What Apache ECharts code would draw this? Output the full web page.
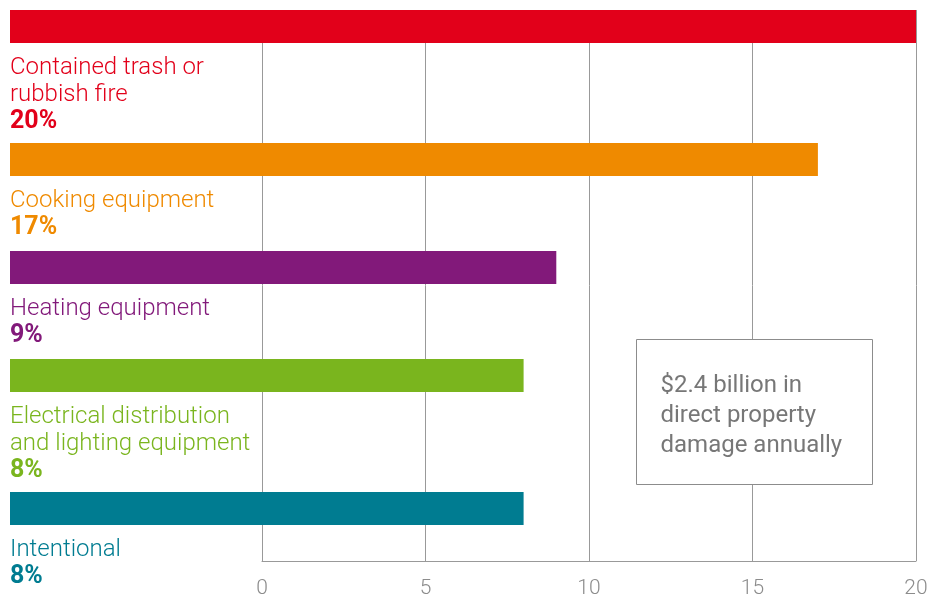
<!DOCTYPE html>
<html>
<head>
<meta charset="utf-8">
<script src="https://cdn.jsdelivr.net/npm/echarts@6/dist/echarts.min.js"></script>
<style>
  html, body { margin: 0; padding: 0; background: #fff; }
  #chart { width: 946px; height: 599px; }
</style>
</head>
<body>
<div id="chart"></div>
<script>
// data
const categories = [
    'Contained trash or\nrubbish fire',
    'Cooking equipment',
    'Heating equipment',
    'Electrical distribution\nand lighting equipment',
    'Intentional'
];
const shares = [20, 17, 9, 8, 8];
const tickValues = [0, 5, 10, 15, 20];
const noteLines = ['$2.4 billion in', 'direct property', 'damage annually'];

// styles
const colors = ['#e2001a', '#ef8a00', '#82197a', '#7ab51e', '#007c91'];
const FONT = 'Roboto, "Noto Sans", sans-serif';
const BAR_H = 33;
const LINE_H = 27;
const BAR_LEFT = 10;

// vertical layout of each block (bar + label lines under it)
const lineCounts = categories.map(c => c.split('\n').length + 1);
const offsets = [];
let acc = 0;
lineCounts.forEach(n => {
    offsets.push(acc);
    acc += 83 + (n - 1) * 25;
});

let dom = document.getElementById('chart');
let myChart = echarts.init(dom, null, { renderer: 'canvas' });

function renderItem(params, api) {
    const i = params.dataIndex;
    const cs = params.coordSys;
    const top = cs.y + offsets[i];
    const x1 = api.coord([api.value(0), i])[0];
    const children = [{
        type: 'rect',
        shape: { x: BAR_LEFT, y: top, width: x1 - BAR_LEFT, height: BAR_H },
        style: { fill: colors[i] }
    }];
    const lines = categories[i].split('\n');
    lines.forEach((t, k) => {
        children.push({
            type: 'text',
            x: BAR_LEFT,
            y: top + 66 + k * LINE_H - 8,
            style: {
                text: t,
                fill: colors[i],
                fontFamily: FONT,
                fontWeight: 300,
                fontSize: 24,
                align: 'left',
                verticalAlign: 'middle'
            }
        });
    });
    children.push({
        type: 'text',
        x: BAR_LEFT,
        y: top + 66 + lines.length * LINE_H - 8,
        style: {
            text: shares[i] + '%',
            fill: colors[i],
            fontFamily: FONT,
            fontWeight: 'bold',
            fontSize: 25,
            align: 'left',
            verticalAlign: 'middle'
        }
    });
    return { type: 'group', children: children };
}

let option = {
    animation: false,
    grid: { left: 262, right: 30, top: 10, bottom: 31 },
    xAxis: {
        type: 'value',
        min: 0,
        max: 20,
        interval: 5,
        axisLine: { show: true, lineStyle: { color: '#999', width: 1 } },
        axisTick: { show: false },
        splitLine: { show: true, lineStyle: { color: '#999', width: 1 } },
        axisLabel: {
            color: '#8c8c8c',
            fontFamily: FONT,
            fontWeight: 300,
            fontSize: 21,
            margin: 17,
            formatter: v => tickValues.indexOf(v) >= 0 ? String(v) : ''
        }
    },
    yAxis: {
        type: 'category',
        inverse: true,
        data: categories,
        show: false
    },
    series: [{
        type: 'custom',
        renderItem: renderItem,
        clip: false,
        data: shares.map((v, i) => [v, i]),
        encode: { x: 0, y: 1 }
    }],
    graphic: [{
        type: 'group',
        left: 636,
        top: 339,
        z: 100,
        children: [{
            type: 'rect',
            z: 100,
            shape: { x: 0, y: 0, width: 236, height: 145 },
            style: { fill: '#fff', stroke: '#8c8c8c', lineWidth: 1 }
        }, {
            type: 'text',
            z: 101,
            x: 24,
            y: 31,
            style: {
                text: noteLines.join('\n'),
                fill: '#777',
                fontFamily: FONT,
                fontSize: 24,
                lineHeight: 30,
                align: 'left',
                verticalAlign: 'top'
            }
        }]
    }]
};

myChart.setOption(option);
</script>
</body>
</html>
